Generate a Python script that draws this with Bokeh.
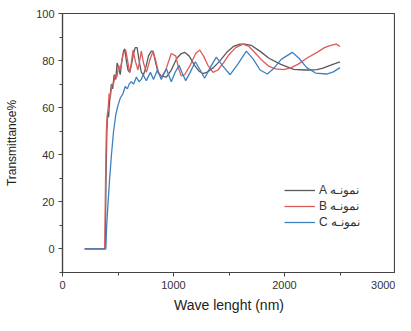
from bokeh.plotting import figure
from bokeh.models import FixedTicker, Range1d, Legend, LegendItem
from bokeh.embed import file_html
from bokeh.resources import INLINE

# ---- data ----
a_x = [200, 385, 392, 400, 408, 415, 425, 440, 452, 465, 480, 492, 505, 520, 535, 550, 561, 575, 590, 606,
       620, 640, 655, 672, 690, 710, 730, 750, 775, 800, 816, 835, 860, 890, 936, 980, 1030, 1070, 1100, 1140,
       1190, 1230, 1265, 1300, 1360, 1420, 1480, 1540, 1600, 1640, 1700, 1787, 1860, 1967, 2083, 2180, 2236,
       2290, 2340, 2400, 2460, 2500]
a_y = [0, 0, 30, 50, 58, 56, 63, 70, 68, 74, 72, 79, 77, 74, 80, 84, 85, 80, 76, 75,
       78, 83, 85.5, 85.5, 80, 75, 74, 77, 82, 84, 84, 80, 75, 73.5, 73, 76, 81, 83, 83.5, 82,
       78, 75.5, 74.5, 75, 77, 80, 83.5, 86, 87, 87, 86.5, 83.7, 81, 78.4, 76.3, 76, 76,
       76.2, 76.7, 77.8, 78.8, 79.5]

b_x = [200, 380, 388, 395, 403, 412, 420, 430, 445, 460, 475, 490, 505, 520, 535, 548, 570, 590, 606, 620,
       636, 655, 680, 695, 710, 730, 756, 785, 816, 840, 865, 890, 930, 980, 1020, 1050, 1070, 1100, 1150,
       1200, 1236, 1270, 1310, 1356, 1400, 1450, 1500, 1560, 1626, 1680, 1740, 1800, 1860, 1920, 1994,
       2060, 2120, 2200, 2300, 2360, 2416, 2466, 2500]
b_y = [0, 0, 30, 50, 57, 60, 66, 64, 70, 70, 74, 73, 78, 76, 80, 83, 84.5, 79, 75, 79,
       84.5, 80, 76, 80, 84, 79, 75, 80, 84, 80, 75, 73, 76, 83, 82, 76, 73.5, 74, 78,
       83, 84.5, 82, 78, 75, 76, 79, 82.5, 85.5, 87, 86, 83, 80, 77.5, 76.5, 76.2,
       77, 78.4, 81, 83.7, 85.5, 86.5, 87, 86]

c_x = [200, 390, 398, 411, 425, 441, 460, 480, 500, 520, 545, 565, 585, 600, 620, 640, 666, 690, 710, 726,
       755, 792, 820, 855, 890, 936, 980, 1015, 1050, 1080, 1110, 1150, 1197, 1240, 1280, 1330, 1386, 1440,
       1510, 1580, 1656, 1720, 1780, 1845, 1900, 1970, 2070, 2130, 2200, 2280, 2380, 2440, 2500]
c_y = [0, 0, 10, 20, 30, 40, 50, 57, 61, 64, 66, 69, 68, 70, 71, 70, 73, 71, 72, 74,
       71.5, 75, 72, 76, 72, 76.5, 71, 75, 78, 74.5, 71.5, 75, 79.5, 76, 72.5, 77, 81.5, 78,
       74, 78.5, 84, 80.5, 76, 74.3, 76.5, 80.5, 83.5, 81, 77, 74.7, 74.3, 75.2, 77]

series_names = ["A نمونـه", "B نمونـه", "C نمونـه"]
x_ticks = [0, 1000, 2000, 3000]
x_minor = [500, 1500, 2500]
y_ticks = [0, 20, 40, 60, 80, 100]
y_minor = [-10, 10, 30, 50, 70, 90]

FONT = "Liberation Sans"
AX = "#444444"

p = figure(width=395, height=315, output_backend="svg", toolbar_location=None,
           x_range=Range1d(0, 3000), y_range=Range1d(-10, 100),
           min_border_left=62, min_border_right=0, min_border_top=13, min_border_bottom=30)
p.xgrid.visible = False
p.ygrid.visible = False
p.outline_line_color = AX
p.outline_line_width = 1.2
p.background_fill_color = "white"
p.border_fill_color = "white"

for ax in (p.xaxis[0], p.yaxis[0]):
    ax.axis_line_color = AX
    ax.axis_line_width = 1.2
    ax.major_tick_line_color = AX
    ax.minor_tick_line_color = AX
    ax.major_tick_out = 4
    ax.major_tick_in = 0
    ax.minor_tick_out = 3
    ax.minor_tick_in = 0
    ax.major_label_text_font = FONT
    ax.major_label_text_font_size = "11px"
    ax.major_label_text_color = "#333333"
    ax.axis_label_text_font = FONT
    ax.axis_label_text_font_style = "normal"
    ax.axis_label_text_color = "#222222"

p.xaxis[0].ticker = FixedTicker(ticks=x_ticks, minor_ticks=x_minor)
p.yaxis[0].ticker = FixedTicker(ticks=y_ticks, minor_ticks=y_minor)
p.xaxis.axis_label = "Wave lenght (nm)"
p.yaxis.axis_label = "Transmittance%"
p.xaxis.axis_label_text_font_size = "14px"
p.yaxis.axis_label_text_font_size = "12px"
p.xaxis.major_label_standoff = 4
p.xaxis.axis_label_standoff = 5
p.yaxis.major_label_standoff = 4
p.yaxis.axis_label_standoff = 14

ra = p.line(a_x, a_y, line_color="#5a5a5a", line_width=1.3)
rb = p.line(b_x, b_y, line_color="#dc5b5b", line_width=1.3)
rc = p.line(c_x, c_y, line_color="#3f80c0", line_width=1.3)

legend = Legend(items=[LegendItem(label=series_names[0], renderers=[ra]),
                       LegendItem(label=series_names[1], renderers=[rb]),
                       LegendItem(label=series_names[2], renderers=[rc])],
                location=(222, 42), border_line_color=None, background_fill_alpha=0,
                padding=0, margin=0, spacing=0, glyph_width=31, glyph_height=16,
                label_height=16, label_standoff=4, label_text_font=FONT,
                label_text_font_size="12px", label_text_color="#333333")
p.add_layout(legend)

open("out.html", "w").write(file_html(p, INLINE))
